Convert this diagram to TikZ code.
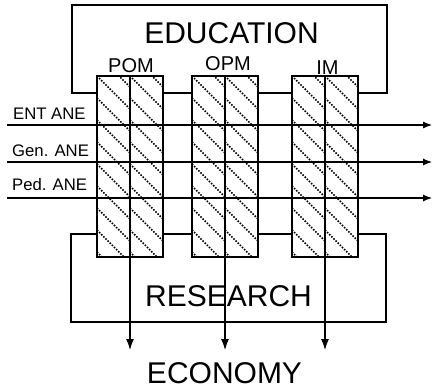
\documentclass[tikz,border=0pt]{standalone}
\usepackage{fontspec}
\setmainfont{Liberation Sans}
\usetikzlibrary{arrows.meta}

\tikzset{
  frame/.style={line width=1.1pt, black},
  colbox/.style={draw, line width=1.1pt, inner sep=0pt, outer sep=0pt,
                 minimum width=66pt, minimum height=181pt},
  hatch/.style={line width=1.5pt, dash pattern=on 1.5pt off 1.5pt},
  flow/.style={line width=1.1pt, -{Latex[length=9pt,width=7pt]}},
  down/.style={line width=1.1pt, -{Latex[length=11pt,width=8pt]}},
  big/.style={font=\fontsize{30}{30}\selectfont, inner sep=0pt, anchor=base},
  mid/.style={font=\fontsize{20}{20}\selectfont, inner sep=0pt, anchor=base},
  small/.style={font=\fontsize{16.7}{16.7}\selectfont, inner sep=0pt, anchor=base west},
}

% diagonal hatching of one half column: left edge, top, width, height
\newcommand{\hatchhalf}[4]{%
  \begin{scope}
    \clip (#1,#2) rectangle ++(#3,#4);
    \foreach \k in {-2,...,9}
      \draw[hatch] (#1,#2+\k*22) -- ++(#3+2,#3+2);
  \end{scope}}

\begin{document}
\begin{tikzpicture}[x=1pt,y=-1pt]
\useasboundingbox (0,0) rectangle (432,389);

% hatched fill of the three columns
\hatchhalf{97}{76}{33}{181}
\hatchhalf{130}{76}{33}{181}
\hatchhalf{192}{76}{33}{181}
\hatchhalf{225}{76}{33}{181}
\hatchhalf{292}{76}{33}{181}
\hatchhalf{325}{76}{33}{181}

% the three columns
\node[colbox] (pom) at (130,166.5) {};
\node[colbox] (opm) at (225,166.5) {};
\node[colbox] (im)  at (325,166.5) {};

% EDUCATION frame
\coordinate (eduL) at (72,93);
\coordinate (eduTL) at (72,5);
\coordinate (eduTR) at (387,5);
\coordinate (eduR) at (387,93);
\draw[frame] (pom.west |- eduL) -- (eduL) -- (eduTL) -- (eduTR) -- (eduR) -- (im.east |- eduR);
\draw[frame] (pom.east |- eduL) -- (opm.west |- eduL);
\draw[frame] (opm.east |- eduL) -- (im.west |- eduL);

% RESEARCH frame
\coordinate (resL) at (71,234);
\coordinate (resBL) at (71,322);
\coordinate (resBR) at (386,322);
\coordinate (resR) at (386,234);
\draw[frame] (pom.west |- resL) -- (resL) -- (resBL) -- (resBR) -- (resR) -- (im.east |- resR);
\draw[frame] (pom.east |- resL) -- (opm.west |- resL);
\draw[frame] (opm.east |- resL) -- (im.west |- resL);

% column midlines running down to ECONOMY
\coordinate (outY) at (0,350);
\draw[down] (pom.north) -- (pom.north |- outY);
\draw[down] (opm.north) -- (opm.north |- outY);
\draw[down] (im.north) -- (im.north |- outY);

% horizontal flows
\coordinate (entL) at (7,125);  \coordinate (entR) at (432,125);
\coordinate (genL) at (7,162);  \coordinate (genR) at (432,162);
\coordinate (pedL) at (7,198);  \coordinate (pedR) at (432,198);
\draw[flow] (entL) -- (entR);
\draw[flow] (genL) -- (genR);
\draw[flow] (pedL) -- (pedR);

% labels
\node[big] (edu) at (231.5,43) {EDUCATION};
\node[big] (res) at (228.5,306) {RESEARCH};
\node[big] (eco) at (224.5,383) {ECONOMY};
\node[mid] (lpom) at (131,72) {POM};
\node[mid] (lopm) at (228,70) {OPM};
\node[mid] (lim)  at (327.5,74) {IM};
\node[small] (lent) at (13,119) {ENT ANE};
\node[small] (lgen) at (12,156) {Gen. ANE};
\node[small] (lped) at (12,190) {Ped. ANE};
\end{tikzpicture}
\end{document}
